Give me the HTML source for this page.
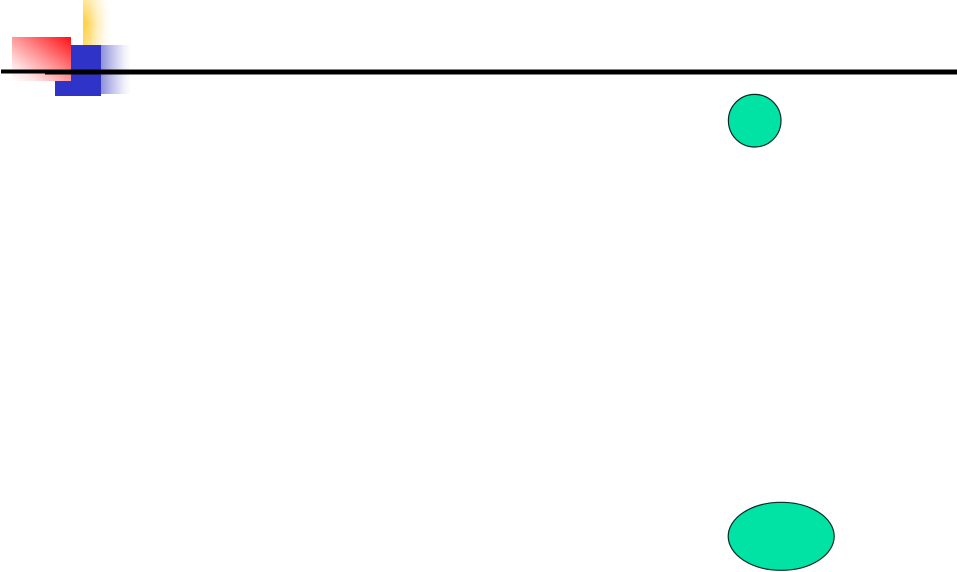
<!DOCTYPE html>
<html>
<head>
<meta charset="utf-8">
<style>
html,body{margin:0;padding:0;background:#fff;width:957px;height:572px;overflow:hidden}
svg{display:block}
</style>
</head>
<body>
<svg width="957" height="572" viewBox="0 0 957 572" xmlns="http://www.w3.org/2000/svg">
<defs>
<linearGradient id="y" x1="0" y1="0" x2="1" y2="0">
<stop offset="0" stop-color="#ffd040"/>
<stop offset="0.2" stop-color="#ffd862"/>
<stop offset="0.5" stop-color="#ffeeb8"/>
<stop offset="0.8" stop-color="#fffbee"/>
<stop offset="1" stop-color="#ffffff"/>
</linearGradient>
<linearGradient id="yv" x1="0" y1="0" x2="0" y2="1">
<stop offset="0" stop-color="#ffffff" stop-opacity="0.45"/>
<stop offset="0.5" stop-color="#ffffff" stop-opacity="0"/>
<stop offset="1" stop-color="#ffffff" stop-opacity="0.2"/>
</linearGradient>
<linearGradient id="r" x1="1" y1="0" x2="0" y2="1">
<stop offset="0" stop-color="#ff0f14"/>
<stop offset="0.45" stop-color="#ff8c8e"/>
<stop offset="0.8" stop-color="#ffe4e4"/>
<stop offset="1" stop-color="#ffffff"/>
</linearGradient>
<linearGradient id="b" x1="0" y1="0" x2="1" y2="0">
<stop offset="0" stop-color="#8e90dc"/>
<stop offset="0.4" stop-color="#c4c5ec"/>
<stop offset="0.75" stop-color="#eeeefa"/>
<stop offset="1" stop-color="#ffffff"/>
</linearGradient>
</defs>
<rect x="83" y="0" width="28" height="45" fill="url(#y)"/>
<rect x="83" y="0" width="28" height="45" fill="url(#yv)"/>
<rect x="12" y="37" width="59" height="44" fill="url(#r)"/>
<rect x="101" y="45" width="30" height="49" fill="url(#b)"/>
<rect x="71" y="45" width="30" height="37" fill="#2f33c8"/>
<rect x="55" y="81" width="46" height="15" fill="#2f33c8"/>
<rect x="1" y="69.5" width="956" height="4" fill="#000"/>
<rect x="45" y="72" width="912" height="2.5" fill="#000"/>
<circle cx="754.7" cy="120.7" r="26.3" fill="#00e3a5" stroke="#0a2a26" stroke-width="1.2"/>
<ellipse cx="781.2" cy="536.3" rx="53" ry="34" fill="#00e3a5" stroke="#0a2a26" stroke-width="1.2"/>
</svg>
</body>
</html>
